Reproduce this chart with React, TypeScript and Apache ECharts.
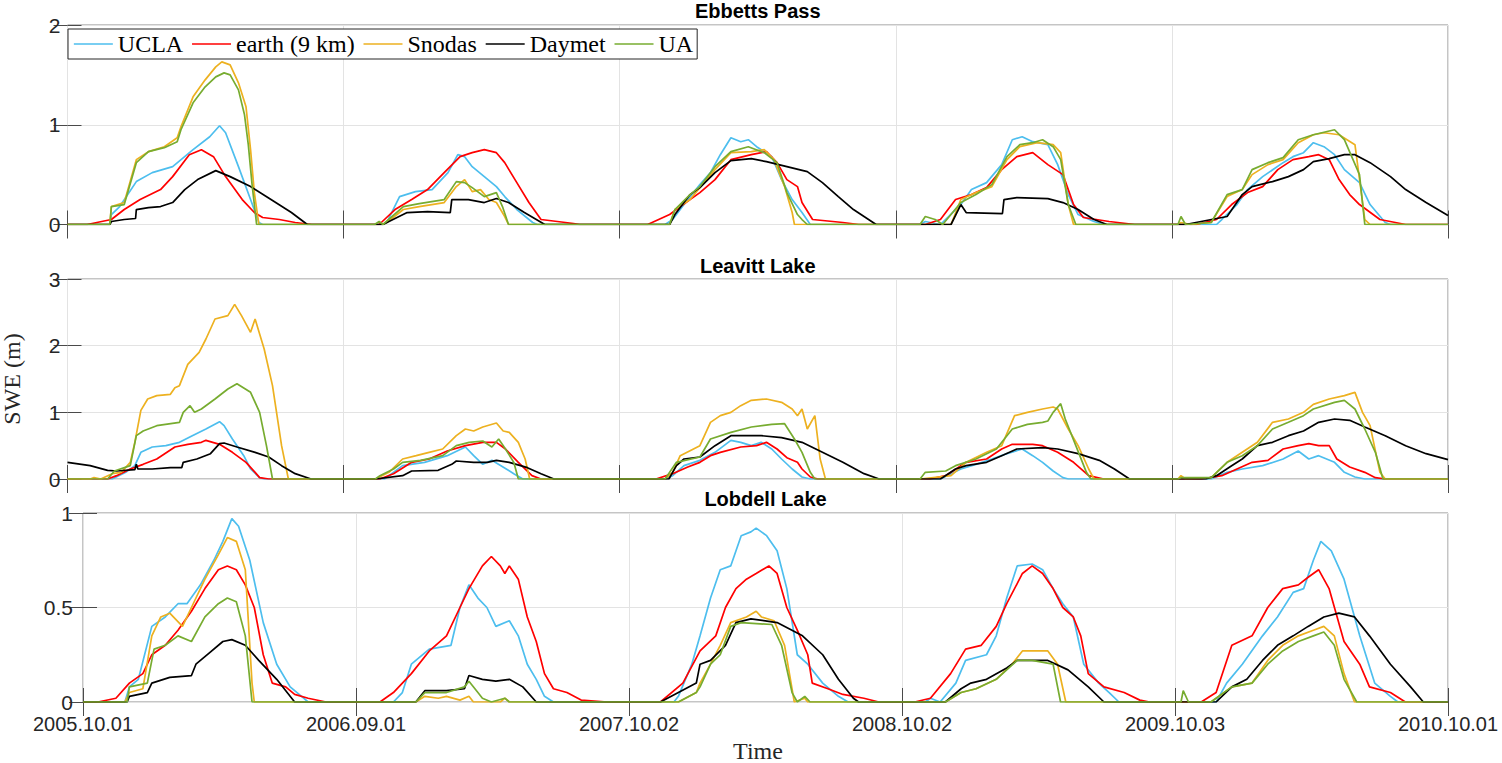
import React, { useEffect, useRef } from "react";
import * as echarts from "echarts";

// ---------- labels ----------
const xTickLabels = ["2005.10.01", "2006.09.01", "2007.10.02", "2008.10.02", "2009.10.03", "2010.10.01"];
const seriesNames = ["UCLA", "earth (9 km)", "Snodas", "Daymet", "UA"];
const stationNames = ["Ebbetts Pass", "Leavitt Lake", "Lobdell Lake"];
const yMaxima = [2, 3, 1];
const yIntervals = [1, 1, 0.5];
const xMaxDay = 1825;
const xStepDays = 365;

// ---------- data: [day since 2005.10.01, SWE (m)] ----------
const ebbettsUCLA = [[0,0],[56,0],[58,0.1],[69,0.18],[91,0.43],[112,0.52],[139,0.58],[166,0.75],[188,0.88],[201,0.99],[209,0.92],[226,0.58],[242,0.25],[253,0.02],[258,0],
[417,0],[422,0.02],[439,0.28],[460,0.33],[482,0.35],[503,0.52],[516,0.7],[525,0.68],[535,0.58],[551,0.48],[567,0.38],[578,0.28],[594,0.15],[615,0.02],[621,0],
[790,0],[800,0.05],[815,0.2],[836,0.4],[850,0.52],[863,0.7],[877,0.87],[890,0.83],[900,0.85],[911,0.78],[931,0.68],[944,0.45],[958,0.25],[971,0.12],[982,0],
[1127,0],[1134,0.03],[1154,0],[1181,0.2],[1195,0.35],[1215,0.42],[1235,0.6],[1249,0.85],[1262,0.88],[1276,0.83],[1296,0.8],[1309,0.6],[1323,0.3],[1336,0.1],[1357,0.03],[1370,0],
[1519,0],[1526,0.05],[1546,0.2],[1560,0.35],[1580,0.48],[1607,0.62],[1620,0.68],[1634,0.72],[1647,0.82],[1661,0.78],[1675,0.7],[1688,0.55],[1708,0.42],[1722,0.2],[1742,0.02],[1749,0],[1825,0]];
const ebbettsEarth = [[0,0],[26,0],[58,0.05],[75,0.15],[96,0.25],[123,0.35],[139,0.48],[161,0.7],[177,0.75],[193,0.68],[209,0.48],[231,0.25],[247,0.12],[258,0.07],[280,0.05],[301,0.02],[323,0],
[412,0],[433,0.15],[455,0.25],[476,0.35],[498,0.52],[519,0.68],[535,0.72],[551,0.75],[567,0.72],[578,0.62],[594,0.42],[610,0.22],[626,0.05],[669,0.01],[677,0],
[767,0],[796,0.1],[823,0.25],[836,0.32],[856,0.45],[877,0.65],[904,0.7],[924,0.73],[938,0.62],[951,0.45],[965,0.38],[971,0.22],[985,0.05],[1025,0.02],[1046,0],
[1134,0],[1154,0.05],[1174,0.25],[1195,0.3],[1215,0.37],[1235,0.55],[1255,0.68],[1276,0.72],[1296,0.6],[1316,0.5],[1330,0.2],[1343,0.07],[1377,0.03],[1411,0],
[1492,0],[1519,0.05],[1539,0.2],[1560,0.32],[1580,0.38],[1600,0.55],[1620,0.65],[1641,0.68],[1654,0.7],[1668,0.65],[1681,0.45],[1695,0.3],[1708,0.2],[1735,0.05],[1769,0],[1825,0]];
const ebbettsSnodas = [[0,0],[56,0],[58,0.18],[75,0.22],[91,0.65],[107,0.73],[128,0.78],[145,0.87],[150,0.98],[166,1.28],[182,1.45],[196,1.58],[204,1.63],[215,1.6],[226,1.42],[236,1.18],[242,0.75],[247,0.32],[253,0],
[417,0],[422,0.02],[444,0.15],[465,0.18],[498,0.22],[514,0.38],[525,0.45],[535,0.33],[546,0.35],[557,0.25],[567,0.22],[578,0.08],[583,0],
[796,0],[803,0.15],[823,0.25],[836,0.37],[856,0.55],[877,0.72],[904,0.73],[921,0.75],[934,0.65],[948,0.38],[958,0.12],[961,0],
[1168,0],[1181,0.25],[1201,0.32],[1222,0.38],[1242,0.65],[1259,0.78],[1282,0.82],[1303,0.8],[1313,0.72],[1323,0.2],[1330,0],
[1468,0],[1472,0.02],[1485,0],[1512,0.02],[1533,0.28],[1553,0.35],[1566,0.5],[1587,0.6],[1607,0.65],[1627,0.82],[1647,0.9],[1661,0.92],[1681,0.9],[1702,0.8],[1715,0.05],[1722,0],[1825,0]];
const ebbettsDaymet = [[0,0],[56,0],[58,0.03],[75,0.05],[90,0.06],[91,0.15],[107,0.17],[123,0.18],[139,0.22],[155,0.35],[172,0.45],[196,0.54],[215,0.48],[242,0.38],[269,0.25],[296,0.12],[317,0],
[417,0],[449,0.12],[476,0.13],[506,0.12],[508,0.25],[530,0.25],[551,0.22],[567,0.26],[583,0.22],[604,0.12],[631,0],
[796,0],[803,0.1],[823,0.3],[836,0.37],[856,0.52],[877,0.64],[904,0.66],[924,0.63],[951,0.58],[978,0.53],[998,0.42],[1019,0.28],[1039,0.15],[1069,0],
[1168,0],[1181,0.2],[1188,0.12],[1236,0.11],[1238,0.25],[1255,0.27],[1296,0.26],[1316,0.22],[1336,0.15],[1357,0.05],[1374,0],
[1478,0],[1533,0.08],[1553,0.3],[1566,0.38],[1593,0.43],[1614,0.48],[1634,0.55],[1647,0.63],[1668,0.66],[1688,0.7],[1702,0.7],[1722,0.62],[1749,0.48],[1769,0.35],[1796,0.22],[1825,0.09]];
const ebbettsUA = [[0,0],[56,0],[58,0.18],[75,0.2],[91,0.62],[107,0.73],[128,0.77],[145,0.83],[150,0.95],[166,1.22],[182,1.38],[196,1.48],[207,1.52],[215,1.5],[226,1.35],[234,1.1],[239,0.8],[244,0.4],[250,0],
[406,0],[412,0.03],[417,0],[444,0.18],[465,0.21],[498,0.25],[514,0.43],[525,0.42],[535,0.37],[551,0.28],[567,0.32],[575,0.18],[583,0],
[796,0],[803,0.15],[823,0.3],[836,0.38],[856,0.58],[877,0.73],[900,0.78],[921,0.72],[938,0.62],[951,0.32],[965,0.1],[971,0.05],[978,0],
[1127,0],[1134,0.08],[1147,0.05],[1157,0],[1181,0.22],[1201,0.3],[1222,0.4],[1242,0.68],[1259,0.8],[1276,0.82],[1289,0.85],[1303,0.78],[1313,0.65],[1323,0.2],[1333,0],
[1468,0],[1472,0.08],[1478,0],[1512,0.02],[1533,0.3],[1553,0.35],[1566,0.55],[1587,0.62],[1607,0.67],[1627,0.85],[1647,0.9],[1675,0.95],[1688,0.85],[1708,0.5],[1715,0],[1825,0]];

const leavittUCLA = [[0,0],[59,0],[77,0.1],[89,0.2],[97,0.4],[112,0.48],[130,0.5],[148,0.55],[165,0.65],[183,0.75],[201,0.86],[207,0.8],[218,0.6],[233,0.35],[242,0.15],[254,0.02],[260,0],
[419,0],[443,0.2],[472,0.25],[502,0.35],[526,0.48],[537,0.35],[549,0.22],[561,0.28],[573,0.2],[590,0.08],[602,0],
[790,0],[800,0.05],[815,0.2],[836,0.28],[856,0.4],[877,0.58],[890,0.55],[904,0.5],[917,0.55],[931,0.45],[944,0.3],[958,0.15],[971,0.03],[982,0],
[1154,0],[1181,0.15],[1201,0.22],[1222,0.3],[1242,0.38],[1262,0.45],[1276,0.35],[1289,0.25],[1303,0.12],[1316,0.02],[1323,0],
[1512,0],[1533,0.1],[1553,0.15],[1580,0.2],[1607,0.3],[1627,0.42],[1641,0.3],[1654,0.35],[1675,0.25],[1688,0.1],[1702,0.03],[1715,0],[1825,0]];
const leavittEarth = [[0,0],[53,0],[65,0.05],[83,0.15],[100,0.22],[118,0.3],[142,0.48],[159,0.52],[177,0.55],[183,0.58],[201,0.52],[218,0.4],[236,0.25],[248,0.1],[254,0.02],[266,0],
[413,0],[431,0.08],[455,0.25],[478,0.3],[502,0.42],[526,0.5],[549,0.55],[567,0.55],[579,0.45],[596,0.25],[614,0.05],[626,0],
[778,0],[800,0.08],[820,0.18],[836,0.25],[850,0.35],[863,0.4],[890,0.48],[911,0.5],[924,0.55],[938,0.45],[951,0.32],[965,0.25],[971,0.15],[982,0.03],[992,0],
[1140,0],[1161,0.05],[1188,0.25],[1215,0.3],[1235,0.45],[1249,0.52],[1276,0.52],[1289,0.5],[1309,0.4],[1330,0.25],[1350,0.05],[1370,0],
[1499,0],[1526,0.05],[1546,0.15],[1566,0.25],[1587,0.28],[1607,0.45],[1627,0.5],[1641,0.53],[1654,0.5],[1668,0.5],[1678,0.3],[1695,0.18],[1715,0.1],[1729,0.02],[1742,0],[1825,0]];
const leavittSnodas = [[0,0],[30,0],[35,0.02],[44,0],[59,0.08],[71,0.1],[83,0.25],[89,0.55],[97,1.03],[106,1.2],[118,1.25],[136,1.27],[142,1.37],[148,1.4],[159,1.72],[174,1.9],[183,2.1],[195,2.4],[212,2.45],[221,2.62],[230,2.45],[242,2.2],[248,2.4],[260,1.95],[271,1.4],[283,0.5],[292,0],
[407,0],[425,0.1],[443,0.3],[461,0.35],[478,0.4],[496,0.45],[514,0.65],[526,0.75],[537,0.72],[549,0.78],[567,0.84],[576,0.72],[584,0.7],[596,0.55],[605,0.3],[611,0],
[790,0],[800,0.1],[810,0.35],[836,0.5],[850,0.85],[863,0.95],[877,1.0],[890,1.1],[904,1.18],[924,1.2],[944,1.15],[958,1.05],[965,0.95],[971,1.05],[978,0.75],[988,0.95],[995,0.3],[1002,0],
[1127,0],[1168,0.05],[1188,0.25],[1215,0.4],[1235,0.5],[1252,0.95],[1269,1.0],[1289,1.05],[1303,1.08],[1309,1.05],[1323,0.75],[1336,0.5],[1350,0.15],[1357,0],
[1468,0],[1472,0.05],[1478,0],[1512,0.02],[1533,0.25],[1553,0.4],[1573,0.55],[1593,0.85],[1614,0.9],[1634,1.0],[1647,1.12],[1668,1.2],[1688,1.25],[1702,1.3],[1712,1.0],[1722,0.8],[1735,0.1],[1742,0],[1825,0]];
const leavittDaymet = [[0,0.25],[30,0.2],[53,0.13],[65,0.12],[89,0.14],[91,0.22],[93,0.15],[112,0.15],[136,0.17],[151,0.17],[153,0.25],[171,0.3],[189,0.38],[201,0.53],[207,0.54],[224,0.48],[248,0.4],[266,0.33],[283,0.2],[301,0.08],[322,0],
[407,0],[443,0.05],[455,0.12],[490,0.13],[508,0.22],[514,0.27],[537,0.25],[555,0.25],[567,0.28],[584,0.25],[608,0.17],[626,0.08],[643,0],
[795,0],[805,0.2],[815,0.3],[836,0.33],[856,0.5],[877,0.65],[917,0.65],[944,0.62],[971,0.55],[998,0.4],[1025,0.25],[1053,0.08],[1073,0],
[1154,0],[1174,0.15],[1188,0.2],[1215,0.25],[1235,0.35],[1255,0.45],[1289,0.47],[1309,0.45],[1336,0.38],[1364,0.28],[1384,0.15],[1404,0],
[1505,0],[1519,0.05],[1539,0.2],[1553,0.3],[1573,0.5],[1593,0.55],[1614,0.65],[1634,0.72],[1654,0.85],[1675,0.9],[1695,0.88],[1715,0.78],[1742,0.65],[1769,0.5],[1796,0.38],[1825,0.29]];
const leavittUA = [[0,0],[53,0],[62,0.12],[83,0.2],[91,0.65],[100,0.72],[118,0.8],[148,0.85],[153,1.0],[162,1.1],[168,1.0],[177,1.05],[195,1.2],[212,1.35],[224,1.43],[242,1.3],[254,1.0],[263,0.5],[271,0],
[407,0],[413,0.05],[431,0.15],[443,0.25],[467,0.28],[496,0.35],[514,0.5],[531,0.55],[549,0.57],[561,0.48],[570,0.6],[579,0.45],[590,0.25],[596,0],
[790,0],[805,0.25],[836,0.33],[850,0.6],[877,0.7],[904,0.78],[931,0.82],[948,0.83],[961,0.6],[971,0.4],[982,0.1],[988,0],
[1127,0],[1134,0.1],[1161,0.12],[1174,0.2],[1201,0.3],[1228,0.45],[1249,0.75],[1269,0.82],[1289,0.85],[1296,0.87],[1303,1.0],[1313,1.13],[1319,0.9],[1333,0.5],[1347,0.1],[1353,0],
[1468,0],[1472,0.02],[1512,0.02],[1533,0.25],[1553,0.35],[1573,0.5],[1593,0.75],[1614,0.85],[1634,0.95],[1647,1.05],[1675,1.15],[1688,1.18],[1702,1.05],[1715,0.75],[1729,0.4],[1739,0],[1825,0]];

const lobdellUCLA = [[0,0],[56,0],[62,0.08],[74,0.12],[92,0.4],[110,0.45],[127,0.52],[139,0.52],[157,0.62],[175,0.75],[187,0.85],[199,0.97],[208,0.93],[223,0.75],[241,0.42],[259,0.2],[277,0.08],[295,0.02],[301,0],
[415,0],[427,0.05],[439,0.2],[463,0.28],[492,0.3],[504,0.5],[516,0.62],[528,0.55],[540,0.5],[552,0.4],[570,0.43],[582,0.35],[594,0.2],[606,0.12],[617,0.03],[629,0],
[790,0],[796,0.03],[814,0.2],[825,0.35],[839,0.55],[852,0.7],[866,0.72],[880,0.88],[893,0.9],[900,0.92],[914,0.88],[928,0.8],[941,0.6],[955,0.25],[969,0.2],[989,0.1],[1010,0.03],[1023,0],
[1126,0],[1133,0.02],[1146,0],[1167,0.1],[1180,0.22],[1208,0.25],[1221,0.35],[1235,0.55],[1249,0.72],[1269,0.73],[1283,0.7],[1297,0.6],[1310,0.52],[1324,0.45],[1338,0.2],[1358,0.1],[1372,0.05],[1385,0],
[1515,0],[1529,0.1],[1550,0.2],[1577,0.35],[1597,0.45],[1618,0.58],[1632,0.6],[1645,0.75],[1655,0.85],[1669,0.8],[1686,0.65],[1707,0.35],[1727,0.1],[1748,0.03],[1758,0],[1825,0]];
const lobdellEarth = [[0,0],[20,0],[44,0.02],[62,0.1],[80,0.15],[92,0.25],[110,0.3],[127,0.38],[145,0.48],[163,0.6],[181,0.7],[193,0.72],[205,0.7],[217,0.62],[229,0.5],[241,0.25],[253,0.1],[271,0.08],[283,0.04],[301,0.02],[325,0],
[397,0],[415,0.05],[439,0.15],[463,0.27],[486,0.35],[504,0.5],[516,0.6],[534,0.72],[546,0.77],[558,0.72],[564,0.68],[570,0.72],[582,0.65],[594,0.45],[606,0.32],[617,0.15],[629,0.07],[647,0.05],[666,0.01],[701,0],
[772,0],[802,0.1],[825,0.27],[846,0.35],[859,0.5],[873,0.6],[887,0.65],[900,0.68],[917,0.72],[928,0.68],[941,0.5],[955,0.38],[969,0.25],[975,0.1],[996,0.07],[1016,0.04],[1044,0.02],[1064,0],
[1112,0],[1133,0.02],[1160,0.15],[1180,0.28],[1201,0.3],[1221,0.4],[1235,0.52],[1256,0.68],[1269,0.72],[1283,0.68],[1297,0.6],[1310,0.5],[1324,0.45],[1334,0.35],[1344,0.15],[1365,0.08],[1392,0.05],[1413,0.01],[1426,0],
[1495,0],[1515,0.05],[1536,0.3],[1563,0.35],[1584,0.5],[1604,0.6],[1625,0.62],[1638,0.66],[1652,0.7],[1666,0.6],[1686,0.32],[1707,0.2],[1720,0.08],[1748,0.05],[1768,0],[1825,0]];
const lobdellSnodas = [[0,0],[56,0],[62,0.05],[80,0.07],[92,0.35],[104,0.45],[116,0.47],[133,0.4],[145,0.5],[163,0.65],[181,0.78],[193,0.87],[205,0.85],[217,0.7],[226,0.1],[229,0],
[445,0],[457,0.03],[475,0.02],[486,0.03],[504,0.01],[516,0.03],[522,0],[558,0],[564,0.02],[570,0],
[796,0],[820,0.05],[825,0.1],[839,0.2],[852,0.3],[866,0.42],[887,0.45],[900,0.48],[907,0.45],[924,0.43],[938,0.3],[951,0],[965,0.02],[969,0],
[1153,0],[1174,0.05],[1194,0.07],[1221,0.12],[1242,0.2],[1256,0.27],[1290,0.27],[1303,0.2],[1314,0],
[1508,0],[1536,0.08],[1563,0.1],[1584,0.22],[1604,0.3],[1625,0.35],[1645,0.38],[1659,0.4],[1673,0.35],[1686,0.15],[1700,0],[1825,0]];
const lobdellDaymet = [[0,0],[59,0],[62,0.03],[86,0.05],[92,0.1],[116,0.13],[145,0.14],[151,0.2],[169,0.26],[187,0.32],[199,0.33],[217,0.3],[235,0.22],[259,0.12],[283,0],
[445,0],[457,0.06],[486,0.06],[510,0.07],[516,0.14],[534,0.12],[552,0.11],[570,0.12],[588,0.08],[606,0],
[772,0],[820,0.1],[825,0.2],[839,0.22],[859,0.3],[873,0.42],[893,0.44],[928,0.42],[962,0.35],[989,0.25],[1010,0.12],[1030,0.02],[1037,0],
[1153,0],[1174,0.07],[1187,0.1],[1208,0.12],[1235,0.18],[1249,0.22],[1290,0.22],[1317,0.17],[1344,0.08],[1365,0],
[1515,0],[1536,0.08],[1556,0.12],[1577,0.22],[1597,0.3],[1618,0.35],[1638,0.4],[1659,0.45],[1679,0.47],[1700,0.45],[1720,0.35],[1748,0.2],[1775,0.08],[1792,0],[1825,0]];
const lobdellUA = [[0,0],[59,0],[62,0.08],[86,0.1],[95,0.28],[110,0.3],[127,0.35],[145,0.32],[163,0.45],[181,0.52],[193,0.55],[205,0.53],[217,0.35],[226,0],
[445,0],[457,0.05],[486,0.05],[510,0.08],[516,0.11],[528,0.05],[534,0.02],[546,0],[564,0.02],[570,0],
[796,0],[820,0.05],[825,0.08],[839,0.2],[852,0.25],[866,0.4],[880,0.42],[921,0.41],[934,0.3],[948,0.05],[955,0],[965,0.03],[972,0],
[1153,0],[1174,0.05],[1194,0.07],[1221,0.12],[1249,0.22],[1269,0.22],[1297,0.2],[1307,0],
[1468,0],[1471,0.06],[1478,0],[1508,0],[1536,0.08],[1563,0.1],[1584,0.2],[1604,0.27],[1625,0.32],[1645,0.35],[1659,0.37],[1673,0.3],[1686,0.12],[1703,0],[1825,0]];

const panelData = [
  [ebbettsUCLA, ebbettsEarth, ebbettsSnodas, ebbettsDaymet, ebbettsUA],
  [leavittUCLA, leavittEarth, leavittSnodas, leavittDaymet, leavittUA],
  [lobdellUCLA, lobdellEarth, lobdellSnodas, lobdellDaymet, lobdellUA],
];

// ---------- styles ----------
const seriesColors = ["#4DBEEE", "#FF0000", "#EDB120", "#000000", "#77AC30"];
const SANS = "'Liberation Sans', Arial, Helvetica, sans-serif";
const SERIF = "'Liberation Serif', 'Times New Roman', serif";
const gridBoxes = [
  { left: 67.5, top: 25, width: 1380.5, height: 199.5 },
  { left: 67.5, top: 279, width: 1380.5, height: 200 },
  { left: 83, top: 513, width: 1365, height: 189 },
];
const titleY = [11, 266, 498.5];

function buildOption() {
  const grid = gridBoxes.map((g) => ({
    ...g,
    show: true,
    borderColor: "#8a8a8a",
    borderWidth: 1,
    backgroundColor: "#ffffff",
    containLabel: false,
  }));
  const xAxis: any[] = [];
  const yAxis: any[] = [];
  const tickStyle = { show: true, inside: true, length: 14, lineStyle: { color: "#4a4a4a", width: 1 } };
  for (let i = 0; i < 3; i++) {
    xAxis.push({
      type: "value",
      gridIndex: i,
      min: 0,
      max: xMaxDay,
      interval: xStepDays,
      axisLine: { show: false },
      axisTick: tickStyle,
      splitLine: { show: true, lineStyle: { color: "#e3e3e3", width: 1 } },
      axisLabel: {
        show: i === 2,
        showMinLabel: true,
        showMaxLabel: true,
        margin: 12,
        fontSize: 20,
        fontFamily: SANS,
        color: "#262626",
        formatter: (v: number) => xTickLabels[Math.round(v / xStepDays)] ?? "",
      },
    });
  }
  for (let i = 0; i < 3; i++) {
    xAxis.push({
      type: "value",
      gridIndex: i,
      position: "top",
      min: 0,
      max: xMaxDay,
      interval: xStepDays,
      axisLine: { show: false },
      axisTick: tickStyle,
      splitLine: { show: false },
      axisLabel: { show: false },
    });
  }
  for (let i = 0; i < 3; i++) {
    yAxis.push({
      type: "value",
      gridIndex: i,
      min: 0,
      max: yMaxima[i],
      interval: yIntervals[i],
      axisLine: { show: false },
      axisTick: tickStyle,
      splitLine: { show: true, lineStyle: { color: "#e3e3e3", width: 1 } },
      axisLabel: {
        show: true,
        margin: i === 2 ? 10 : 7,
        fontSize: 21,
        fontFamily: SANS,
        color: "#262626",
        showMinLabel: true,
        showMaxLabel: true,
      },
    });
  }
  for (let i = 0; i < 3; i++) {
    yAxis.push({
      type: "value",
      gridIndex: i,
      position: "right",
      min: 0,
      max: yMaxima[i],
      interval: yIntervals[i],
      axisLine: { show: false },
      axisTick: tickStyle,
      splitLine: { show: false },
      axisLabel: { show: false },
    });
  }
  const series: any[] = [];
  for (let p = 0; p < 3; p++) {
    for (let s = 0; s < seriesNames.length; s++) {
      series.push({
        type: "line",
        name: seriesNames[s],
        xAxisIndex: p,
        yAxisIndex: p,
        data: panelData[p][s],
        symbol: "none",
        showSymbol: false,
        smooth: false,
        color: seriesColors[s],
        lineStyle: { color: seriesColors[s], width: 1.7 },
        z: 2 + s,
      });
    }
  }
  const graphic: any[] = stationNames.map((name, i) => ({
    type: "text",
    x: gridBoxes[i].left + gridBoxes[i].width / 2,
    y: titleY[i],
    z: 10,
    style: {
      text: name,
      font: `bold 20px ${SANS}`,
      fill: "#000",
      align: "center",
      verticalAlign: "middle",
      textAlign: "center",
      textVerticalAlign: "middle",
    },
  }));
  graphic.push({
    type: "text",
    x: 12,
    y: 379,
    rotation: Math.PI / 2,
    style: {
      text: "SWE (m)",
      font: `24px ${SERIF}`,
      fill: "#262626",
      align: "center",
      verticalAlign: "middle",
      textAlign: "center",
      textVerticalAlign: "middle",
    },
  });
  graphic.push({
    type: "text",
    x: 758,
    y: 751,
    style: {
      text: "Time",
      font: `24px ${SERIF}`,
      fill: "#262626",
      align: "center",
      verticalAlign: "middle",
      textAlign: "center",
      textVerticalAlign: "middle",
    },
  });

  return {
    animation: false,
    backgroundColor: "#ffffff",
    grid,
    xAxis,
    yAxis,
    series,
    graphic,
    legend: {
      data: seriesNames,
      left: 68,
      top: 29,
      orient: "horizontal",
      itemWidth: 39,
      itemHeight: 14,
      itemGap: 8,
      padding: [3, 4, 3, 5],
      borderColor: "#262626",
      borderWidth: 1,
      backgroundColor: "#ffffff",
      selectedMode: false,
      itemStyle: { color: "rgba(0,0,0,0)", borderColor: "rgba(0,0,0,0)", borderWidth: 0, opacity: 0 },
      lineStyle: { width: 1.7 },
      textStyle: { fontFamily: SERIF, fontSize: 24, color: "#000", lineHeight: 24 },
      z: 20,
    },
  };
}

export default function App() {
  const ref = useRef<HTMLDivElement>(null);
  useEffect(() => {
    if (!ref.current) return;
    const chart = echarts.init(ref.current, null, { renderer: "svg" });
    chart.setOption(buildOption() as any);
    return () => chart.dispose();
  }, []);
  return (
    <div
      ref={ref}
      style={{ position: "absolute", left: 0, top: 0, width: 1502, height: 763, background: "#fff" }}
    />
  );
}
